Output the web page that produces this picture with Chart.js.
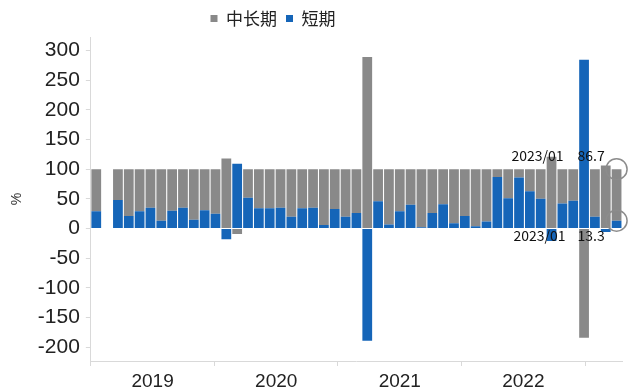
<!DOCTYPE html>
<html>
<head>
<meta charset="utf-8">
<script src="https://cdn.jsdelivr.net/npm/chart.js@4"></script>
<style>
  html, body { margin: 0; padding: 0; background: #fff; }
</style>
</head>
<body>
<canvas id="c" width="628" height="390"></canvas>
<script>
// ---- datos: 2019/01 .. 2023/01, % por plazo ----
var months = [];
for (var yy = 2019; yy <= 2023; yy++) {
    for (var mm = 1; mm <= 12; mm++) {
        if (yy === 2023 && mm > 1) break;
        months.push(yy + '/' + (mm < 10 ? '0' + mm : mm));
    }
}
var yearLabels = ['2019', '2020', '2021', '2022'];

var shortTerm = [29, null, 48, 21, 29, 35, 13, 30, 35, 15, 31, 25,
                 -18, 109, 52, 34, 34, 35, 20, 34, 35, 6, 33, 20,
                 26, -189, 46, 7, 29, 40, 2, 26, 41, 9, 21, 4,
                 12, 87, 51, 86, 63, 50, -21, 42, 47, 284, 20, -6,
                 13.3];
var midLong = [71, null, 52, 79, 71, 65, 87, 70, 65, 85, 69, 75,
               118, -9, 48, 66, 66, 65, 80, 66, 65, 94, 67, 80,
               74, 289, 54, 93, 71, 60, 98, 74, 59, 91, 79, 96,
               88, 13, 49, 14, 37, 50, 121, 58, 53, -184, 80, 106,
               86.7];
var yTicks = [-200, -150, -100, -50, 0, 50, 100, 150, 200, 250, 300];

var AXIS = '#d9d9d9';

// marcas del eje de años (en unidades de barra)
var yearStep = 11.4;
var yearEdges = [0, 1, 2, 3, 4].map(function (k) { return -0.5 + k * yearStep; });
var yearMids = yearLabels.map(function (l, k) { return -0.5 + (k + 0.5) * yearStep; });

// leyenda algo a la izquierda, como en el original
var legendShift = {
    id: 'legendShift',
    afterLayout: function (chart) {
        chart.legend.left -= 38;
        chart.legend.right -= 38;
    }
};

// círculos + rótulos del último mes
var callouts = {
    id: 'callouts',
    afterDatasetsDraw: function (chart) {
        var ctx = chart.ctx, xs = chart.scales.x, ys = chart.scales.y;
        var i = months.length - 1;
        var px = xs.getPixelForValue(i);
        var yTop = ys.getPixelForValue(midLong[i] + shortTerm[i]);
        var yMid = ys.getPixelForValue(shortTerm[i]);
        ctx.save();
        ctx.strokeStyle = '#8c8c8c';
        ctx.lineWidth = 1.5;
        [yTop, yMid].forEach(function (cy) {
            ctx.beginPath();
            ctx.arc(px, cy, 10.5, 0, Math.PI * 2);
            ctx.stroke();
        });
        ctx.fillStyle = '#111';
        ctx.font = '14px "Noto Sans CJK SC"';
        ctx.textBaseline = 'middle';
        ctx.textAlign = 'right';
        ctx.fillText(months[i], px - 53, yTop - 13);
        ctx.fillText(months[i], px - 51, yMid + 15);
        ctx.textAlign = 'left';
        ctx.fillText(String(midLong[i]), px - 39, yTop - 13);
        ctx.fillText(String(shortTerm[i]), px - 39, yMid + 15);
        ctx.restore();
    }
};

new Chart(document.getElementById('c'), {
    type: 'bar',
    data: {
        labels: months,
        datasets: [{
            label: '短期',
            data: shortTerm,
            backgroundColor: '#1565b8',
            barPercentage: 0.9,
            categoryPercentage: 1
        }, {
            label: '中长期',
            data: midLong,
            backgroundColor: '#898989',
            barPercentage: 0.9,
            categoryPercentage: 1
        }]
    },
    options: {
        responsive: false,
        animation: false,
        layout: { padding: { top: 1, left: 0, right: 6, bottom: -7 } },
        plugins: {
            tooltip: { enabled: false },
            legend: {
                position: 'top',
                labels: {
                    boxWidth: 7, boxHeight: 7, padding: 9,
                    color: '#222',
                    font: { family: '"Noto Sans CJK SC"', size: 17 },
                    sort: function (a, b) { return b.datasetIndex - a.datasetIndex; }
                }
            }
        },
        scales: {
            x: { stacked: true, display: false },
            xYear: {
                type: 'linear', axis: 'x', position: 'bottom',
                offset: false,
                min: -0.5, max: months.length - 0.5,
                afterBuildTicks: function (axis) {
                    axis.ticks = yearEdges.concat(yearMids).sort(function (a, b) { return a - b; })
                        .map(function (v) { return { value: v }; });
                },
                border: { color: AXIS },
                grid: {
                    offset: false, drawOnChartArea: false, tickLength: 5,
                    tickColor: function (c) {
                        return c.tick && yearMids.indexOf(c.tick.value) >= 0 ? 'rgba(0,0,0,0)' : AXIS;
                    }
                },
                ticks: {
                    autoSkip: false, maxRotation: 0, padding: 6,
                    color: '#222',
                    font: { family: '"Liberation Sans"', size: 19, lineHeight: 1 },
                    callback: function (v) {
                        var k = yearMids.indexOf(v);
                        return k >= 0 ? yearLabels[k] : '';
                    }
                }
            },
            y: {
                stacked: true,
                min: -223, max: 322.5,
                afterBuildTicks: function (axis) {
                    axis.ticks = yTicks.map(function (v) { return { value: v }; });
                },
                border: { color: AXIS },
                grid: { drawOnChartArea: false, tickLength: 5, tickColor: AXIS },
                ticks: {
                    padding: 6, color: '#222',
                    font: { family: '"Liberation Sans"', size: 21 }
                },
                title: {
                    display: true, text: '%', color: '#333',
                    padding: { top: 9, bottom: 6 },
                    font: { family: '"Liberation Sans"', size: 14 }
                }
            }
        }
    },
    plugins: [legendShift, callouts]
});
</script>
</body>
</html>
